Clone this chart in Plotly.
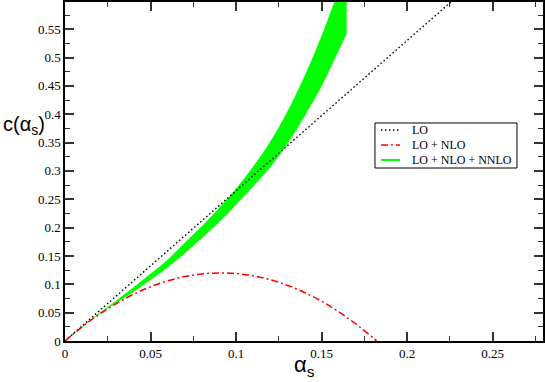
import plotly.graph_objects as go

# LO line
lo_x = [0.0, 0.28]
lo_y = [0.0, 0.742]

# LO + NLO curve
nlo_x = [0.0, 0.01, 0.02, 0.03, 0.04, 0.05, 0.06, 0.07, 0.08, 0.09, 0.10,
         0.11, 0.12, 0.13, 0.14, 0.15, 0.16, 0.17, 0.18, 0.1823]
nlo_y = [0.0, 0.0249, 0.0469, 0.0661, 0.0823, 0.0957, 0.1061, 0.1137, 0.1183,
         0.1201, 0.1190, 0.1150, 0.1081, 0.0983, 0.0856, 0.0701, 0.0516,
         0.0302, 0.0060, 0.0]

# LO + NLO + NNLO band (upper / lower edge)
band_x = [0.0, 0.01, 0.02, 0.03, 0.04, 0.05, 0.06, 0.07, 0.08, 0.09, 0.10,
          0.11, 0.12, 0.13, 0.14, 0.15, 0.155, 0.16, 0.1647]
band_hi = [0.0, 0.025, 0.049, 0.071, 0.094, 0.118, 0.143, 0.173, 0.202, 0.234,
           0.268, 0.307, 0.351, 0.404, 0.466, 0.537, 0.577, 0.618, 0.66]
band_lo = [0.0, 0.025, 0.048, 0.068, 0.087, 0.108, 0.130, 0.155, 0.182, 0.210,
           0.241, 0.273, 0.307, 0.348, 0.397, 0.450, 0.481, 0.513, 0.543]

legend_names = ["LO", "LO + NLO", "LO + NLO + NNLO"]

serif = "Liberation Serif"
sans = "Liberation Sans"
green = "#00ff00"
lo_dash = "1.5px,2.5px"
nlo_dash = "7px,3px,2px,3px"

fig = go.Figure()

# band: lower edge, then upper edge filled down to it
fig.add_trace(go.Scatter(x=band_x, y=band_lo, mode="lines", line_shape="spline",
                         line=dict(color=green, width=0.5), hoverinfo="skip"))
fig.add_trace(go.Scatter(x=band_x, y=band_hi, mode="lines", line_shape="spline",
                         fill="tonexty", fillcolor=green,
                         line=dict(color=green, width=0.5), hoverinfo="skip"))

fig.add_trace(go.Scatter(x=lo_x, y=lo_y, mode="lines",
                         line=dict(color="black", width=1.4, dash=lo_dash)))
fig.add_trace(go.Scatter(x=nlo_x, y=nlo_y, mode="lines", line_shape="spline",
                         line=dict(color="red", width=1.5, dash=nlo_dash)))

axis_common = dict(
    showline=True, linecolor="black", linewidth=1.5, mirror="ticks",
    ticks="inside", ticklen=9, tickwidth=1.5, tickcolor="#333",
    showgrid=False, zeroline=False, automargin=False,
    tickfont=dict(family=serif, size=13, color="black"),
    minor=dict(ticks="inside", ticklen=5, tickwidth=1.2, tickcolor="#333", showgrid=False),
)

fig.update_xaxes(range=[0, 0.2795], dtick=0.05, minor_dtick=0.025, **axis_common)
fig.update_yaxes(range=[0, 0.598], dtick=0.05, minor_dtick=0.025, **axis_common)

# axis titles
fig.add_annotation(text="α<sub>s</sub>", xref="paper", yref="paper",
                   x=0.5, y=-0.075, xanchor="center", yanchor="middle", showarrow=False,
                   font=dict(family=sans, size=22, color="black"))
fig.add_annotation(text="c(α<sub>s</sub>)", xref="paper", yref="paper",
                   x=-0.134, y=0.637, xanchor="left", yanchor="middle", showarrow=False,
                   font=dict(family=sans, size=20, color="black"))

# compact legend box (xmgrace style)
fig.add_shape(type="rect", xref="paper", yref="paper",
              x0=0.6485, x1=0.9456, y0=0.5103, y1=0.6431,
              line=dict(color="black", width=1), fillcolor="white", layer="above")
legend_styles = [dict(color="black", width=1.4, dash=lo_dash),
                 dict(color="red", width=1.5, dash=nlo_dash),
                 dict(color=green, width=2)]
row_y = [0.6224, 0.5782, 0.5339]
for name, style, yy in zip(legend_names, legend_styles, row_y):
    fig.add_shape(type="line", xref="paper", yref="paper",
                  x0=0.661, x1=0.7008, y0=yy, y1=yy, line=style, layer="above")
    fig.add_annotation(text=name, xref="paper", yref="paper", x=0.7218, y=yy,
                       xanchor="left", yanchor="middle", showarrow=False,
                       font=dict(family=serif, size=12, color="black"))

fig.update_layout(
    width=545, height=382,
    margin=dict(l=65, r=2, t=2, b=41),
    plot_bgcolor="white", paper_bgcolor="white",
    showlegend=False,
)

fig.write_html("out.html", config={"displayModeBar": False},
               post_script="document.body.style.margin='0';")
